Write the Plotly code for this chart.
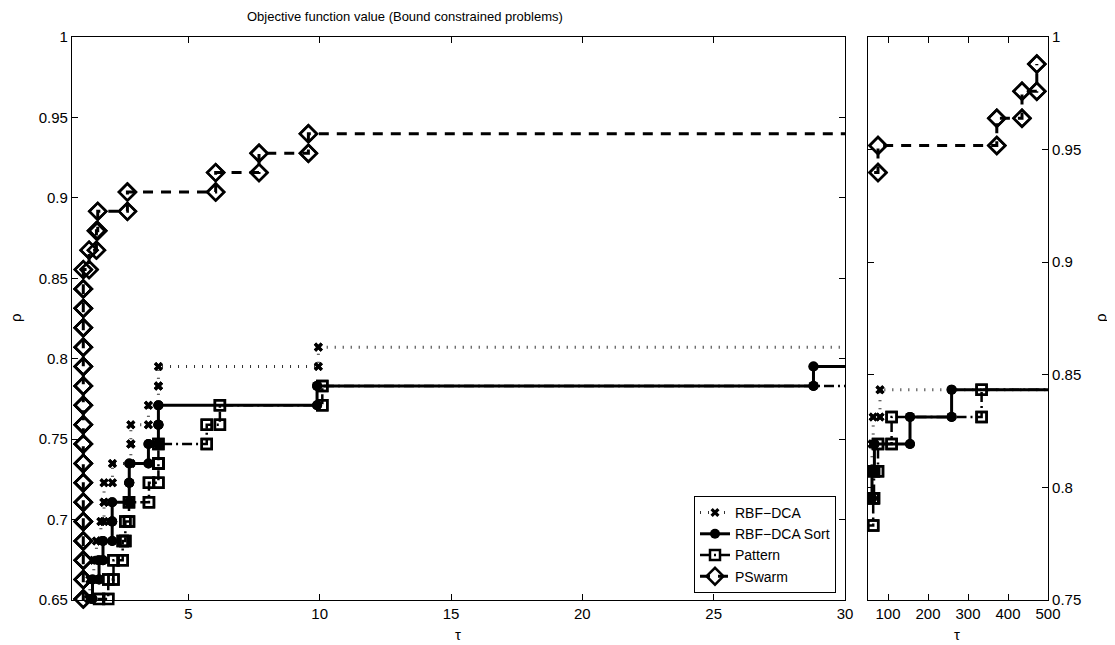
import plotly.graph_objects as go

# the page body has an 8px margin; the figure is sized to fit the window
OFF = 8
W, H = 1115 - OFF, 645 - OFF

# rho levels k/83 for k = 53 .. 82 (83 problems)
levels = [0.6386, 0.6506, 0.6627, 0.6747, 0.6867, 0.6988, 0.7108, 0.7229, 0.7349, 0.7470,
          0.7590, 0.7711, 0.7831, 0.7952, 0.8072, 0.8193, 0.8313, 0.8434, 0.8554, 0.8675,
          0.8795, 0.8916, 0.9036, 0.9157, 0.9277, 0.9398, 0.9518, 0.9639, 0.9759, 0.9880]

# sorted performance ratios per solver, aligned with levels (first = k 53); 1000 = failed
rbf_tau = [1.1, 1.2, 1.25, 1.4, 1.5, 1.67, 1.79, 1.79, 2.11, 2.81, 2.81, 3.48, 3.86, 3.86,
           9.95, 60, 63, 80, 1000]
sort_tau = [1.2, 1.3, 1.35, 1.6, 1.75, 2.1, 2.1, 2.75, 2.75, 3.48, 3.86, 3.86, 9.9, 28.8,
            60, 66, 155, 259, 1000]
pattern_tau = [1.5, 1.6, 1.95, 2.15, 2.5, 2.6, 2.74, 3.5, 3.86, 3.86, 5.7, 6.2, 10.1, 63,
               65, 75, 109, 334, 1000]
pswarm_tau = [1, 1, 1, 1, 1, 1, 1, 1, 1, 1, 1, 1, 1, 1, 1, 1, 1, 1, 1,
              1.22, 1.5, 1.55, 2.68, 6.04, 7.69, 9.57, 75, 372, 435, 472]

names = ["RBF\u2212DCA", "RBF\u2212DCA Sort", "Pattern", "PSwarm"]
series = [rbf_tau, sort_tau, pattern_tau, pswarm_tau]

left_xticks = [5, 10, 15, 20, 25, 30]
left_yticks = [0.65, 0.7, 0.75, 0.8, 0.85, 0.9, 0.95, 1]
left_yticktext = ["0.65", "0.7", "0.75", "0.8", "0.85", "0.9", "0.95", "1"]
right_xticks = [100, 200, 300, 400, 500]
right_yticks = [0.75, 0.8, 0.85, 0.9, 0.95, 1]
right_yticktext = ["0.75", "0.8", "0.85", "0.9", "0.95", "1"]

styles = [
    dict(line=dict(color="#333333", width=3, dash="1px,7px"),
         marker=dict(symbol="x", size=8, color="black", line=dict(width=0))),
    dict(line=dict(color="black", width=3, dash="solid"),
         marker=dict(symbol="circle", size=10, color="black", line=dict(width=0))),
    dict(line=dict(color="black", width=2.5, dash="10px,4px,2px,4px"),
         marker=dict(symbol="square-open", size=10, color="black", line=dict(width=2.5))),
    dict(line=dict(color="black", width=3, dash="10px,8px"),
         marker=dict(symbol="diamond-open", size=13, color="black", line=dict(width=2.5))),
]


def stairs(tau, rho):
    xs, ys = [tau[0]], [rho[0]]
    for i in range(1, len(tau)):
        xs += [tau[i], tau[i]]
        ys += [rho[i - 1], rho[i]]
    return xs, ys


def px(x):
    return (x - OFF) / W


def py(y):
    return 1 - (y - OFF) / H


ranges = {
    "x": (0.57, 30), "y": (0.65, 1.0),
    "x2": (50, 500), "y2": (0.75, 1.0),
}

fig = go.Figure()
for idx, (name, tau) in enumerate(zip(names, series)):
    rho = levels[:len(tau)]
    xs, ys = stairs(tau, rho)
    st = styles[idx]
    for xa, ya in (("x", "y"), ("x2", "y2")):
        fig.add_trace(go.Scatter(
            x=xs, y=ys, mode="lines+markers", name=name,
            showlegend=(xa == "x"), legendrank=idx,
            line=st["line"], marker=st["marker"],
            xaxis=xa, yaxis=ya, hoverinfo="skip"))
        x0, x1 = ranges[xa]
        y0, y1 = ranges[ya]
        keep = [(a, b) for a, b in zip(xs, ys) if x0 <= a <= x1 and y0 - 0.002 <= b <= y1]
        fig.add_trace(go.Scatter(
            x=[p[0] for p in keep], y=[p[1] for p in keep], mode="markers",
            showlegend=False, cliponaxis=False,
            marker=st["marker"], xaxis=xa, yaxis=ya, hoverinfo="skip"))

FONT = "Liberation Sans, Arial, Helvetica, sans-serif"
ax_common = dict(showline=True, linecolor="black", linewidth=1.2, mirror="ticks",
                 ticks="inside", ticklen=6, tickcolor="black", tickwidth=1,
                 showgrid=False, zeroline=False, automargin=False,
                 tickfont=dict(family=FONT, size=15, color="black"))

fig.update_layout(
    width=W, height=H, paper_bgcolor="white", plot_bgcolor="white",
    margin=dict(l=0, r=0, t=0, b=0),
    font=dict(family=FONT, color="black"),
    xaxis=dict(domain=[px(72), px(845)], range=list(ranges["x"]), tickvals=left_xticks,
               anchor="y", **ax_common),
    yaxis=dict(domain=[py(600), py(37)], range=list(ranges["y"]), tickvals=left_yticks,
               ticktext=left_yticktext, anchor="x", **ax_common),
    xaxis2=dict(domain=[px(868), px(1048)], range=list(ranges["x2"]), tickvals=right_xticks,
                anchor="y2", **ax_common),
    yaxis2=dict(domain=[py(600), py(37)], range=list(ranges["y2"]), tickvals=right_yticks,
                ticktext=right_yticktext, side="right", anchor="x2", **ax_common),
    legend=dict(x=px(836), y=py(593), xanchor="right", yanchor="bottom",
                bgcolor="white", bordercolor="black", borderwidth=1,
                font=dict(family=FONT, size=14, color="black"),
                tracegroupgap=0, itemwidth=30, traceorder="normal"),
    annotations=[
        dict(text="Objective function value (Bound constrained problems)", x=px(405), y=py(17),
             xref="paper", yref="paper", xanchor="center", yanchor="middle",
             showarrow=False, font=dict(size=13, family=FONT)),
        dict(text="\u03c4", x=px(458), y=py(634), xref="paper", yref="paper",
             xanchor="center", yanchor="middle",
             showarrow=False, font=dict(size=15, family=FONT)),
        dict(text="\u03c4", x=px(957), y=py(634), xref="paper", yref="paper",
             xanchor="center", yanchor="middle",
             showarrow=False, font=dict(size=15, family=FONT)),
        dict(text="\u03c1", x=px(15), y=py(318), xref="paper", yref="paper",
             xanchor="center", yanchor="middle",
             showarrow=False, textangle=-90, font=dict(size=15, family=FONT)),
        dict(text="\u03c1", x=px(1100), y=py(318), xref="paper", yref="paper",
             xanchor="center", yanchor="middle",
             showarrow=False, textangle=-90, font=dict(size=15, family=FONT)),
    ],
)

fig.write_html("out.html")
